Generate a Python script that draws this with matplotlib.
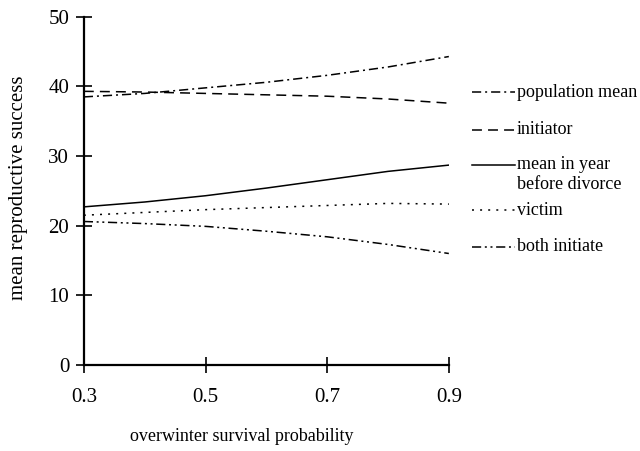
import matplotlib.pyplot as plt

plt.rcParams.update(
    {
        "font.family": "Liberation Serif",
        "font.size": 13,
    }
)

survival = [0.3, 0.4, 0.5, 0.6, 0.7, 0.8, 0.9]
pop_mean = [38.5, 39.0, 39.8, 40.6, 41.6, 42.8, 44.3]
initiator = [39.3, 39.2, 39.0, 38.8, 38.6, 38.2, 37.6]
year_before = [22.7, 23.4, 24.3, 25.4, 26.6, 27.8, 28.7]
victim = [21.5, 21.9, 22.3, 22.6, 22.9, 23.2, 23.1]
both_initiate = [20.6, 20.3, 19.9, 19.2, 18.4, 17.3, 16.0]

labels = ["population mean", "initiator", "mean in year\nbefore divorce",
          "victim", "both initiate"]
x_ticks = [0.3, 0.5, 0.7, 0.9]
y_ticks = [0, 10, 20, 30, 40, 50]

fig = plt.figure(figsize=(6.4, 4.51), dpi=100)
ax = fig.add_axes([0.131, 0.191, 0.5703, 0.7716])

lw = 1.1
styles = [
    (6.0, 2.6, 1.3, 2.6),
    (6.5, 4.0),
    None,
    (1.3, 4.0),
    (6.0, 2.4, 1.3, 2.4, 1.3, 2.4),
]
series = [pop_mean, initiator, year_before, victim, both_initiate]

lines = []
for vals, dash in zip(series, styles):
    (ln,) = ax.plot(survival, vals, color="black", lw=lw)
    if dash:
        ln.set_dashes(dash)
    lines.append(ln)

ax.set_xlim(0.3, 0.9)
ax.set_ylim(0, 50)
ax.set_xticks(x_ticks)
ax.set_xticklabels([f"{v:.1f}" for v in x_ticks], fontsize=15)
ax.set_yticks(y_ticks)
ax.set_yticklabels([str(v) for v in y_ticks], fontsize=15)
ax.tick_params(direction="inout", length=11, width=1.2)
ax.tick_params(axis="x", pad=11)
ax.tick_params(axis="y", pad=5)

for side in ["top", "right"]:
    ax.spines[side].set_visible(False)
for side in ["left", "bottom"]:
    ax.spines[side].set_linewidth(1.6)

ax.set_xlabel("overwinter survival probability", fontsize=13)
ax.xaxis.label.set_va("center")
ax.xaxis.set_label_coords(0.433, -0.207)
ax.set_ylabel("mean reproductive success", fontsize=15)
ax.yaxis.label.set_va("center")
ax.yaxis.set_label_coords(-0.179, 0.509)

# hand-made key, handle sits level with the first text line
key_rows = [0.784, 0.675, 0.575, 0.445, 0.339]
for ln, dash, lab, yr in zip(lines, styles, labels, key_rows):
    h = ax.plot([1.063, 1.181], [yr, yr], transform=ax.transAxes,
                clip_on=False, color="black", lw=lw)[0]
    if dash:
        h.set_dashes(dash)
    first, *rest = lab.split("\n")
    ax.text(1.187, yr, first, transform=ax.transAxes, va="center",
            ha="left", fontsize=13)
    for k, extra in enumerate(rest, start=1):
        ax.text(1.187, yr - 0.058 * k, extra, transform=ax.transAxes,
                va="center", ha="left", fontsize=13)

fig.savefig("out.png", dpi=100)
